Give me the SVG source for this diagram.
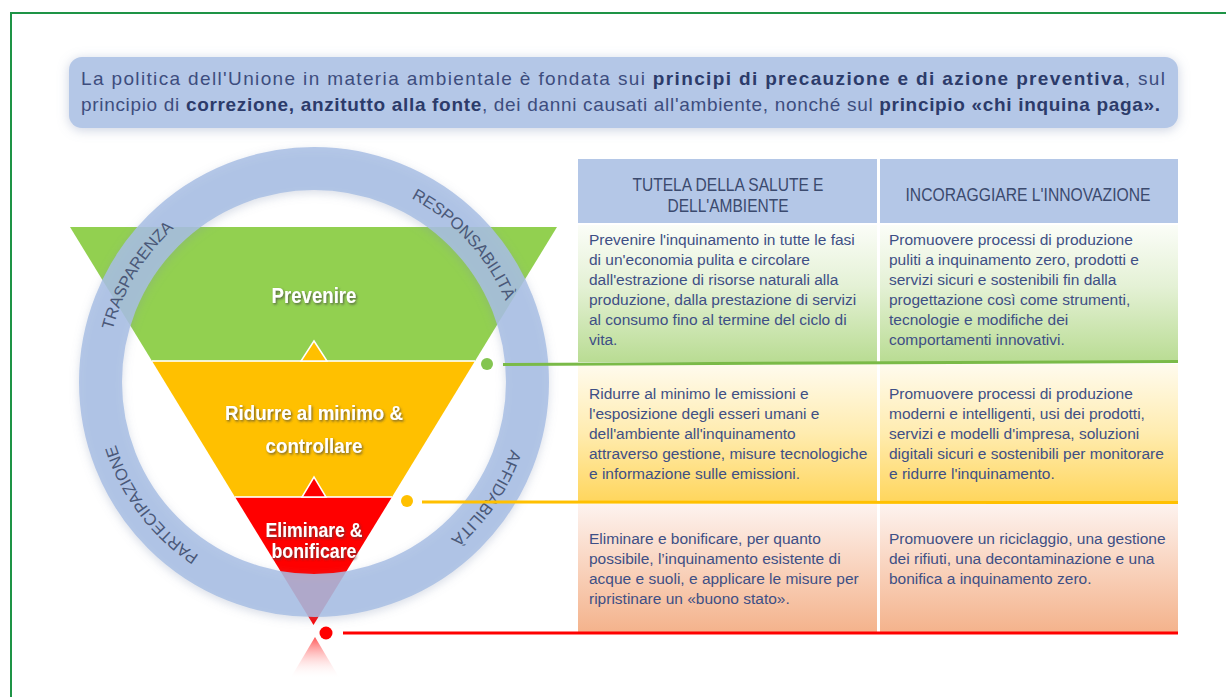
<svg xmlns="http://www.w3.org/2000/svg" xmlns:xlink="http://www.w3.org/1999/xlink" width="1226" height="697" viewBox="0 0 1226 697">
  <style>
    .banner-txt { font-family: "Liberation Sans", Arial, sans-serif; font-size: 19px; fill: #3d4d7e; }
    .banner-txt .b { font-weight: bold; fill: #2c3b6a; }
    .ring-lbl { font-family: "Liberation Sans Narrow", "Liberation Sans", Arial, sans-serif; font-size: 16.5px; fill: #4a5878; text-anchor: middle; }
    .lvl { font-family: "Liberation Sans Narrow", "Liberation Sans", Arial, sans-serif; font-weight: bold; fill: #ffffff; text-anchor: middle; }
    .hdr { font-family: "Liberation Sans Narrow", "Liberation Sans", Arial, sans-serif; font-size: 18px; fill: #3b4a6e; text-anchor: middle; }
    .cell { font-family: "Liberation Sans", Arial, sans-serif; font-size: 15.5px; fill: #3e4f85; }
  </style>
  <defs>
    <filter id="softShadow" x="-10%" y="-40%" width="120%" height="180%">
      <feGaussianBlur in="SourceAlpha" stdDeviation="6"/>
      <feOffset dx="0" dy="2" result="blur"/>
      <feFlood flood-color="#8d9bbd" flood-opacity="0.45"/>
      <feComposite in2="blur" operator="in"/>
      <feMerge><feMergeNode/><feMergeNode in="SourceGraphic"/></feMerge>
    </filter>
    <filter id="ringShadow" x="-20%" y="-20%" width="140%" height="140%">
      <feGaussianBlur in="SourceAlpha" stdDeviation="5"/>
      <feOffset dx="0" dy="3" result="blur"/>
      <feFlood flood-color="#7f8fb0" flood-opacity="0.35"/>
      <feComposite in2="blur" operator="in"/>
      <feMerge><feMergeNode/><feMergeNode in="SourceGraphic"/></feMerge>
    </filter>
    <filter id="txtShadow" x="-10%" y="-30%" width="120%" height="160%">
      <feDropShadow dx="1.2" dy="1.5" stdDeviation="0.8" flood-color="#404040" flood-opacity="0.75"/>
    </filter>
    <linearGradient id="gRow1" x1="0" y1="0" x2="0" y2="1">
      <stop offset="0" stop-color="#fbfdf8"/>
      <stop offset="0.45" stop-color="#e4f1d5"/>
      <stop offset="1" stop-color="#b9dc93"/>
    </linearGradient>
    <linearGradient id="gRow2" x1="0" y1="0" x2="0" y2="1">
      <stop offset="0" stop-color="#fffbee"/>
      <stop offset="0.5" stop-color="#ffecb0"/>
      <stop offset="1" stop-color="#ffd65e"/>
    </linearGradient>
    <linearGradient id="gRow3" x1="0" y1="0" x2="0" y2="1">
      <stop offset="0" stop-color="#fdf3ef"/>
      <stop offset="0.5" stop-color="#f9d3bd"/>
      <stop offset="1" stop-color="#f4b38c"/>
    </linearGradient>
    <linearGradient id="gReflect" x1="0" y1="0" x2="0" y2="1">
      <stop offset="0" stop-color="#ff3a3a" stop-opacity="0.85"/>
      <stop offset="1" stop-color="#ffffff" stop-opacity="0"/>
    </linearGradient>
    <path id="ringPath" d="M 522,382 A 208 208 0 1 1 106,382 A 208 208 0 1 1 522,382"/>
  </defs>

  <rect width="1226" height="697" fill="#ffffff"/>

  <!-- outer frame -->
  <rect id="frame" x="11" y="13" width="1240" height="720" fill="none" stroke="#1e9446" stroke-width="2"/>

  <!-- principle banner -->
  <g id="banner">
    <rect x="69" y="57" width="1109" height="71" rx="13" fill="#b4c7e7" filter="url(#softShadow)"/>
    <text class="banner-txt" x="81" y="85" textLength="1084" lengthAdjust="spacing">La politica dell'Unione in materia ambientale è fondata sui <tspan class="b">principi di precauzione e di azione preventiva</tspan>, sul</text>
    <text class="banner-txt" x="81" y="111" textLength="1079" lengthAdjust="spacing">principio di <tspan class="b">correzione, anzitutto alla fonte</tspan>, dei danni causati all'ambiente, nonché sul <tspan class="b">principio «chi inquina paga».</tspan></text>
  </g>

  <!-- inverted pyramid -->
  <g id="pyramid">
    <polygon points="290,679 340,679 315,637" fill="url(#gReflect)"/>
    <g id="level-prevenire">
      <polygon points="70,227 557,227 475,361 152,361" fill="#92d050"/>
    </g>
    <g id="level-ridurre">
      <polygon points="152,361 475,361 392,497 235,497" fill="#ffc000"/>
    </g>
    <g id="level-eliminare">
      <polygon points="235,497 392,497 313.5,625" fill="#ff0000"/>
    </g>
    <line x1="152" y1="361" x2="475" y2="361" stroke="#ffffff" stroke-opacity="0.8" stroke-width="2"/>
    <line x1="235" y1="497" x2="392" y2="497" stroke="#ffffff" stroke-opacity="0.8" stroke-width="2"/>
    <polygon points="301,361 327,361 314,341" fill="#ffc000" stroke="#ffffff" stroke-width="1.5"/>
    <polygon points="302,497 326,497 314,477" fill="#ff0000" stroke="#ffffff" stroke-width="1.5"/>
  </g>

  <!-- values ring -->
  <g id="ring">
    <circle cx="314" cy="382" r="213.5" fill="none" stroke="#a8bee4" stroke-opacity="0.85" stroke-width="43" filter="url(#ringShadow)"/>
    <text class="ring-lbl"><textPath xlink:href="#ringPath" href="#ringPath" startOffset="766">TRASPARENZA</textPath></text>
    <text class="ring-lbl"><textPath xlink:href="#ringPath" href="#ringPath" startOffset="1152">RESPONSABILITÀ</textPath></text>
    <text class="ring-lbl"><textPath xlink:href="#ringPath" href="#ringPath" startOffset="123">AFFIDABILITÀ</textPath></text>
    <text class="ring-lbl"><textPath xlink:href="#ringPath" href="#ringPath" startOffset="519">PARTECIPAZIONE</textPath></text>
  </g>

  <!-- level labels -->
  <g id="level-labels" filter="url(#txtShadow)">
    <text class="lvl" x="314" y="303" font-size="22" textLength="85" lengthAdjust="spacingAndGlyphs">Prevenire</text>
    <text class="lvl" x="314" y="420" font-size="21" textLength="178" lengthAdjust="spacingAndGlyphs">Ridurre al minimo &amp;</text>
    <text class="lvl" x="314" y="453" font-size="21" textLength="97" lengthAdjust="spacingAndGlyphs">controllare</text>
    <text class="lvl" x="314" y="537" font-size="20" textLength="97" lengthAdjust="spacingAndGlyphs">Eliminare &amp;</text>
    <text class="lvl" x="314" y="558" font-size="20" textLength="85" lengthAdjust="spacingAndGlyphs">bonificare</text>
  </g>

  <!-- measures table -->
  <g id="table">
    <g id="header">
      <rect x="578" y="159" width="299" height="64" fill="#b4c7e7"/>
      <rect x="880" y="159" width="298" height="64" fill="#b4c7e7"/>
      <text class="hdr" x="728" y="191" textLength="191" lengthAdjust="spacingAndGlyphs">TUTELA DELLA SALUTE E</text>
      <text class="hdr" x="728" y="212" textLength="121" lengthAdjust="spacingAndGlyphs">DELL'AMBIENTE</text>
      <text class="hdr" x="1028" y="201" textLength="245" lengthAdjust="spacingAndGlyphs">INCORAGGIARE L'INNOVAZIONE</text>
    </g>
    <g id="row-prevenire">
      <rect x="578" y="225" width="299" height="137" fill="url(#gRow1)"/>
      <rect x="880" y="225" width="298" height="137" fill="url(#gRow1)"/>
      <text class="cell">
        <tspan x="589" y="245">Prevenire l'inquinamento in tutte le fasi</tspan>
        <tspan x="589" y="265">di un'economia pulita e circolare</tspan>
        <tspan x="589" y="285">dall'estrazione di risorse naturali alla</tspan>
        <tspan x="589" y="305">produzione, dalla prestazione di servizi</tspan>
        <tspan x="589" y="325">al consumo fino al termine del ciclo di</tspan>
        <tspan x="589" y="345">vita.</tspan>
      </text>
      <text class="cell">
        <tspan x="889" y="245">Promuovere processi di produzione</tspan>
        <tspan x="889" y="265">puliti a inquinamento zero, prodotti e</tspan>
        <tspan x="889" y="285">servizi sicuri e sostenibili fin dalla</tspan>
        <tspan x="889" y="305">progettazione così come strumenti,</tspan>
        <tspan x="889" y="325">tecnologie e modifiche dei</tspan>
        <tspan x="889" y="345">comportamenti innovativi.</tspan>
      </text>
    </g>
    <g id="row-ridurre">
      <rect x="578" y="364" width="299" height="137" fill="url(#gRow2)"/>
      <rect x="880" y="364" width="298" height="137" fill="url(#gRow2)"/>
      <text class="cell">
        <tspan x="589" y="399">Ridurre al minimo le emissioni e</tspan>
        <tspan x="589" y="419">l'esposizione degli esseri umani e</tspan>
        <tspan x="589" y="439">dell'ambiente all'inquinamento</tspan>
        <tspan x="589" y="459">attraverso gestione, misure tecnologiche</tspan>
        <tspan x="589" y="479">e informazione sulle emissioni.</tspan>
      </text>
      <text class="cell">
        <tspan x="889" y="399">Promuovere processi di produzione</tspan>
        <tspan x="889" y="419">moderni e intelligenti, usi dei prodotti,</tspan>
        <tspan x="889" y="439">servizi e modelli d'impresa, soluzioni</tspan>
        <tspan x="889" y="459">digitali sicuri e sostenibili per monitorare</tspan>
        <tspan x="889" y="479">e ridurre l'inquinamento.</tspan>
      </text>
    </g>
    <g id="row-eliminare">
      <rect x="578" y="504" width="299" height="128" fill="url(#gRow3)"/>
      <rect x="880" y="504" width="298" height="128" fill="url(#gRow3)"/>
      <text class="cell">
        <tspan x="589" y="544">Eliminare e bonificare, per quanto</tspan>
        <tspan x="589" y="564">possibile, l’inquinamento esistente di</tspan>
        <tspan x="589" y="584">acque e suoli, e applicare le misure per</tspan>
        <tspan x="589" y="604">ripristinare un «buono stato».</tspan>
      </text>
      <text class="cell">
        <tspan x="889" y="544">Promuovere un riciclaggio, una gestione</tspan>
        <tspan x="889" y="564">dei rifiuti, una decontaminazione e una</tspan>
        <tspan x="889" y="584">bonifica a inquinamento zero.</tspan>
      </text>
    </g>
  </g>

  <!-- level-to-row connectors -->
  <g id="connectors">
    <circle cx="487" cy="364" r="6" fill="#84c551"/>
    <line x1="503" y1="364.5" x2="1178" y2="361.5" stroke="#7aba48" stroke-width="3"/>
    <circle cx="407" cy="501" r="6" fill="#ffc000"/>
    <line x1="422" y1="502" x2="1178" y2="502.5" stroke="#ffc000" stroke-width="3"/>
    <circle cx="326" cy="633" r="6.5" fill="#ff0000"/>
    <line x1="343" y1="633" x2="1178" y2="633" stroke="#ff0000" stroke-width="3"/>
  </g>
</svg>
